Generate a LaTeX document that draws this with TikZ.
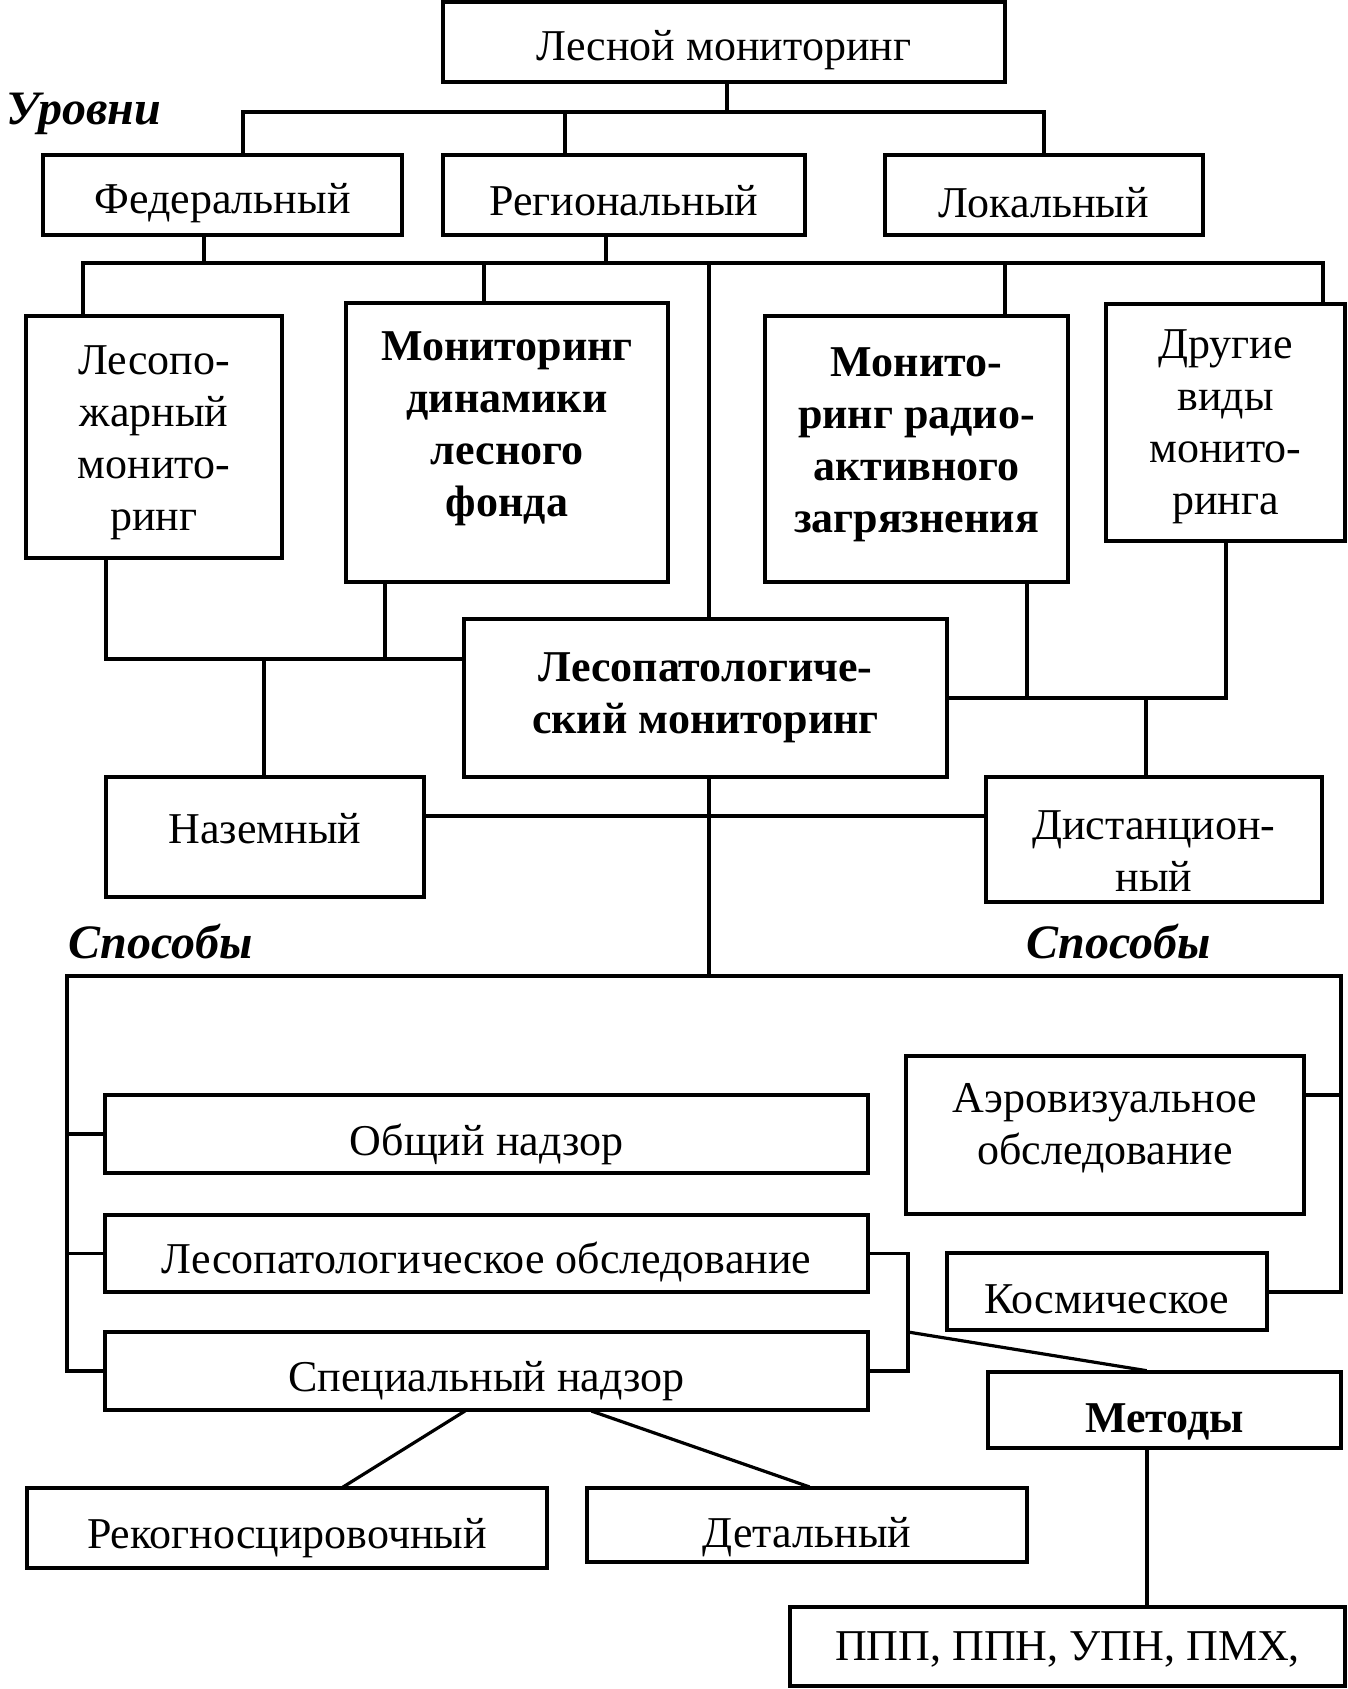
\documentclass[tikz,border=0pt]{standalone}
\usepackage{fontspec}
\setmainfont{Liberation Serif}
\begin{document}
\begin{tikzpicture}[x=0.5pt,y=-0.5pt,
  ln/.style={line width=1.6pt, line cap=rect},
  bx/.style={draw, line width=1.6pt, inner sep=0pt},
  tx/.style={inner sep=0pt, align=center, font=\fontsize{22}{26}\selectfont},
  btx/.style={tx, font=\fontsize{22}{26}\selectfont\bfseries},
  lab/.style={inner sep=0pt, font=\fontsize{24}{28}\selectfont\bfseries\itshape}]
\fill[white] (0,0) rectangle (1347,1689);
\useasboundingbox (0,0) rectangle (1347,1689);

% boxes
\node[bx, minimum width=281pt, minimum height=40pt] (lm) at (724,42) {};
\node[bx, minimum width=179.5pt, minimum height=40pt] (fed) at (222.5,195) {};
\node[bx, minimum width=181pt, minimum height=40pt] (reg) at (624,195) {};
\node[bx, minimum width=159pt, minimum height=40pt] (lok) at (1044,195) {};
\node[bx, minimum width=128pt, minimum height=121pt] (lp) at (154,437) {};
\node[bx, minimum width=161pt, minimum height=139.5pt] (md) at (507,442.5) {};
\node[bx, minimum width=151.5pt, minimum height=133pt] (mr) at (916.5,449) {};
\node[bx, minimum width=119.5pt, minimum height=118.5pt] (dv) at (1225.5,422.5) {};
\node[bx, minimum width=241.5pt, minimum height=79pt] (lpm) at (705.5,698) {};
\node[bx, minimum width=159pt, minimum height=60pt] (naz) at (265,837) {};
\node[bx, minimum width=168pt, minimum height=62.5pt] (dis) at (1154,839.5) {};
\node[bx, minimum width=381.5pt, minimum height=39pt] (on) at (486.5,1134) {};
\node[bx, minimum width=381.5pt, minimum height=38.5pt] (lpo) at (486.5,1253.5) {};
\node[bx, minimum width=381.5pt, minimum height=39pt] (sn) at (486.5,1371) {};
\node[bx, minimum width=260pt, minimum height=40pt] (rek) at (287,1528) {};
\node[bx, minimum width=220pt, minimum height=37pt] (det) at (807,1525) {};
\node[bx, minimum width=199pt, minimum height=79pt] (aer) at (1105,1135) {};
\node[bx, minimum width=160pt, minimum height=38.5pt] (kos) at (1107,1291.5) {};
\node[bx, minimum width=176.5pt, minimum height=38pt] (met) at (1164.5,1410) {};
\node[bx, minimum width=277.5pt, minimum height=39.5pt] (ppp) at (1067.5,1646.5) {};

% texts in boxes
\node[tx] (lm-t) at ([yshift=-4pt]lm.center) {Лесной мониторинг};
\node[tx] (fed-t) at ([yshift=-4pt]fed.center) {Федеральный};
\node[tx] (reg-t) at ([yshift=-3pt]reg.center) {Региональный};
\node[tx] (lok-t) at ([yshift=-4pt]lok.center) {Локальный};
\node[tx] (lp-t) at ([yshift=-3pt]lp.center) {Лесопо-\\жарный\\монито-\\ринг};
\node[btx] (md-t) at ([yshift=7pt]md.center) {Мониторинг\\динамики\\лесного\\фонда};
\node[btx] (mr-t) at ([yshift=2pt]mr.center) {Монито-\\ринг радио-\\активного\\загрязнения};
\node[tx] (dv-t) at ([yshift=-2pt]dv.center) {Другие\\виды\\монито-\\ринга};
\node[btx] (lpm-t) at (lpm.center) {Лесопатологиче-\\ский мониторинг};
\node[tx] (naz-t) at ([yshift=4pt]naz.center) {Наземный};
\node[tx] (dis-t) at ([yshift=-6pt]dis.center) {Дистанцион-\\ный};
\node[tx] (on-t) at ([yshift=-5pt]on.center) {Общий надзор};
\node[tx] (lpo-t) at ([yshift=-4pt]lpo.center) {Лесопатологическое обследование};
\node[tx] (sn-t) at ([yshift=-5pt]sn.center) {Специальный надзор};
\node[tx] (rek-t) at ([yshift=-5pt]rek.center) {Рекогносцировочный};
\node[tx] (det-t) at ([yshift=-6pt]det.center) {Детальный};
\node[tx] (aer-t) at ([yshift=3.5pt]aer.center) {Аэровизуальное\\обследование};
\node[tx] (kos-t) at ([yshift=-4pt]kos.center) {Космическое};
\node[btx] (met-t) at ([yshift=-6pt]met.center) {Методы};
\node[tx] (ppp-t) at ([yshift=-1.5pt]ppp.center) {ППП, ППН, УПН, ПМХ,};

% labels
\node[lab] (urovni) at (84,114) {Уровни};
\node[lab] (sp1) at (161,942) {Способы};
\node[lab] (sp2) at (1119,942) {Способы};

% level 1 connectors
\coordinate (t1) at (727,112);
\coordinate (bar1w) at (243,112);
\coordinate (bar1e) at (1044,112);
\coordinate (r1) at (565,112);
\draw[ln] (lm.south -| t1) -- (t1);
\draw[ln] (bar1w) -- (bar1e);
\draw[ln] (bar1w) -- (bar1w |- fed.north);
\draw[ln] (r1) -- (r1 |- reg.north);
\draw[ln] (bar1e) -- (bar1e |- lok.north);

% level 2 connectors
\coordinate (bar2w) at (83,263);
\coordinate (bar2e) at (1323,263);
\coordinate (f2) at (204,263);
\coordinate (r2) at (606,263);
\coordinate (m2) at (484,263);
\coordinate (c2) at (709,263);
\coordinate (rr2) at (1005,263);
\draw[ln] (bar2w) -- (bar2e);
\draw[ln] (fed.south -| f2) -- (f2);
\draw[ln] (reg.south -| r2) -- (r2);
\draw[ln] (bar2w) -- (bar2w |- lp.north);
\draw[ln] (m2) -- (m2 |- md.north);
\draw[ln] (c2) -- (c2 |- lpm.north);
\draw[ln] (rr2) -- (rr2 |- mr.north);
\draw[ln] (bar2e) -- (bar2e |- dv.north);

% level 3 left
\coordinate (h3l) at (106,659);
\coordinate (md3) at (385,659);
\coordinate (nz3) at (264,659);
\draw[ln] (lp.south -| h3l) -- (h3l) -- (h3l -| lpm.west);
\draw[ln] (md.south -| md3) -- (md3);
\draw[ln] (nz3) -- (nz3 |- naz.north);
% level 3 right
\coordinate (h3r) at (1226,698);
\coordinate (mr3) at (1027,698);
\coordinate (ds3) at (1146,698);
\draw[ln] (lpm.east |- h3r) -- (h3r) -- (h3r |- dv.south);
\draw[ln] (mr.south -| mr3) -- (mr3);
\draw[ln] (ds3) -- (ds3 |- dis.north);
% ground - remote
\coordinate (nd) at (424,816);
\draw[ln] (naz.east |- nd) -- (dis.west |- nd);

% down to frame
\coordinate (c4) at (709,976);
\draw[ln] (lpm.south -| c4) -- (c4);

% frame
\coordinate (fTL) at (67,976);
\coordinate (fTR) at (1341,976);
\coordinate (fBL) at (67,1371);
\coordinate (fR) at (1341,1292);
\coordinate (aR) at (1341,1095);
\draw[ln] (fBL) -- (fTL) -- (fTR) -- (fR) -- (kos.east |- fR);
\draw[ln] (fTL |- on.west) -- (on.west);
\draw[ln] (fTL |- lpo.west) -- (lpo.west);
\draw[ln] (fBL) -- (fBL -| sn.west);
\draw[ln] (aR) -- (aer.east |- aR);

% middle bracket
\coordinate (mbT) at (908,1253.5);
\coordinate (mbB) at (908,1371);
\coordinate (dg) at (908,1332);
\coordinate (mt) at (1145,1372);
\draw[ln] (lpo.east) -- (mbT) -- (mbB) -- (sn.east);
\draw[ln] (dg) -- (mt |- met.north);

% special survey kinds
\coordinate (s1) at (464,1410);
\coordinate (s2) at (593,1410);
\coordinate (rk) at (344,1488);
\coordinate (dt) at (808,1488);
\draw[ln] (sn.south -| s1) -- (rek.north -| rk);
\draw[ln] (sn.south -| s2) -- (det.north -| dt);

% methods
\coordinate (mp) at (1147,1448);
\draw[ln] (met.south -| mp) -- (ppp.north -| mp);
\end{tikzpicture}
\end{document}
